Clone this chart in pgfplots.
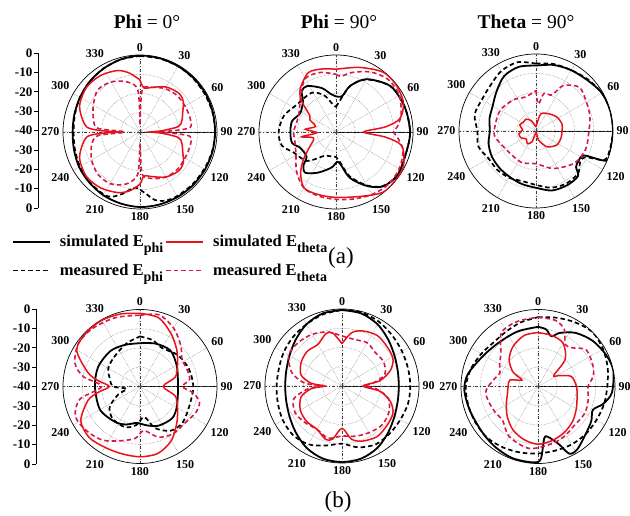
\documentclass[border=0pt]{standalone}
\usepackage{pgfplots}
\pgfplotsset{compat=1.18}
\usepgfplotslibrary{polar}
\usepackage{fontspec}
\setmainfont{Liberation Serif}
\definecolor{simred}{RGB}{232,18,28}
\definecolor{meared}{RGB}{215,25,70}
\newcommand{\sub}[1]{\raisebox{-0.35em}{\fontsize{14}{14}\selectfont #1}}
\pgfplotsset{
  myp/.style={
    width=154pt, height=154pt, scale only axis, anchor=center,
    xmin=0, xmax=360, ymin=0, ymax=40,
    xtick={0,30,...,330},
    xticklabels={90,60,30,0,330,300,270,240,210,180,150,120},
    ytick={10,20,30}, yticklabels={},
    grid=major,
    major grid style={black!55, densely dotted, line width=0.5pt},
    axis line style={black, line width=0.7pt},
    major tick length=0pt,
    xticklabel style={font=\fontsize{12}{12}\selectfont\bfseries, inner sep=3.5pt},
    x filter/.expression={90-x},
    y filter/.expression={y+40},
    extra x ticks={0,90,180,270},
    extra x tick labels={,,,},
    extra x tick style={major grid style={black!75, dashdotted, line width=0.5pt}},
  },
  simE/.style={black, line width=1.8pt, smooth, tension=0.5, no markers},
  meaE/.style={black, line width=1.7pt, dash pattern=on 4.5pt off 3pt, smooth, tension=0.5, no markers},
  simT/.style={simred, line width=1.5pt, smooth, tension=0.5, no markers},
  meaT/.style={meared, line width=1.6pt, dash pattern=on 4.5pt off 3pt, smooth, tension=0.5, no markers},
  scal/.style={scale only axis, width=10pt, height=155pt, anchor=west,
    xmin=0, xmax=1, ymin=-40, ymax=40,
    axis x line=none, axis y line=left, y axis line style={-, line width=0.6pt},
    ytick={-40,-30,...,40}, yticklabels={0,-10,-20,-30,-40,-30,-20,-10,0},
    tick align=outside, major tick length=4pt, ytick style={black, line width=0.6pt},
    yticklabel style={font=\bfseries\fontsize{13}{13}\selectfont, inner sep=1.5pt}},
}
\begin{document}
\begin{tikzpicture}[x=1pt,y=1pt]
\path[use as bounding box] (0,0) rectangle (630,516);

% titles
\node[font=\fontsize{19.5}{20}\selectfont] at (147,494) {\textbf{Phi} = 0°};
\node[font=\fontsize{19.5}{20}\selectfont] at (339,494) {\textbf{Phi} = 90°};
\node[font=\fontsize{19.5}{20}\selectfont] at (526,494) {\textbf{Theta} = 90°};
\node[font=\fontsize{23}{23}\selectfont] at (341,258) {(a)};
\node[font=\fontsize{23}{23}\selectfont] at (338,14) {(b)};

% radial scales
\begin{axis}[scal, at={(38pt,385.5pt)}]
\end{axis}
\begin{axis}[scal, at={(36pt,129.5pt)}]
\end{axis}

% legend
\begin{axis}[hide axis, scale only axis, width=100pt, height=100pt, at={(0pt,0pt)}, anchor=south west,
  xmin=0, xmax=1, ymin=0, ymax=1,
  legend columns=2,
  legend image code/.code={\draw[#1] (0pt,0pt) -- (37pt,0pt);},
  legend cell align=left,
  legend style={at={(0.12,2.83)}, anchor=north west, draw=none, fill=none, inner sep=0pt,
    font=\bfseries\fontsize{16.5}{18}\selectfont, row sep=12pt,
    /tikz/every odd column/.append style={column sep=7pt}}]
\addlegendimage{black, line width=1.8pt}\addlegendentry{simulated E\sub{phi}}
\addlegendimage{simred, line width=1.8pt}\addlegendentry{simulated E\sub{theta}}
\addlegendimage{black, line width=1.7pt, dash pattern=on 4.5pt off 3pt}\addlegendentry{measured E\sub{phi}}
\addlegendimage{meared, line width=1.7pt, dash pattern=on 4.5pt off 3pt}\addlegendentry{measured E\sub{theta}}
\end{axis}

% ---------- (a) Phi = 0
\begin{polaraxis}[myp, at={(140pt,384pt)}]
\addplot[meaE] coordinates {(0,-0.5)(15,-0.5)(30,-0.5)(45,-0.8)(60,-1)(75,-1)(90,-1)(105,-1.2)(120,-1.5)(135,-1.5)(150,-1.5)(160,-2)(168,-4)(175,-8)(185,-11)(195,-7)(203,-3.5)(210,-2.5)(225,-3)(240,-4)(255,-5)(270,-5.5)(285,-5)(300,-4)(315,-3)(330,-2)(345,-1)(360,-0.5)};
\addplot[simE] coordinates {(0,0)(15,-0.3)(30,-0.5)(45,-0.5)(60,-0.5)(75,-0.8)(90,-1)(105,-1)(120,-1)(135,-1)(150,-1)(165,-1)(180,-1)(195,-1.5)(210,-2)(225,-2.8)(240,-3.5)(255,-4.5)(270,-5)(285,-4.7)(300,-4)(315,-3)(330,-2)(345,-1)(360,0)};
\addplot[meaT] coordinates {(0,-36)(3,-18)(15,-16)(30,-14)(45,-13)(60,-13)(75,-13)(85,-14)(88,-24)(90,-33)(92,-24)(95,-14)(105,-13)(120,-13)(135,-12.5)(150,-13)(165,-15)(177,-18)(180,-33)(183,-18)(195,-12)(210,-9)(225,-9)(240,-11)(255,-14)(265,-18)(270,-32)(275,-18)(285,-15)(300,-12)(315,-9)(330,-10)(345,-13)(357,-18)(360,-36)};
\addplot[simT] coordinates {(0,-13)(5,-17)(15,-16)(30,-13)(45,-11.5)(55,-12.5)(65,-15.5)(75,-17.5)(82,-20)(87,-29)(90,-35)(93,-29)(98,-20)(105,-17.5)(115,-15.5)(125,-12.5)(135,-11.5)(150,-13)(165,-16)(175,-17)(180,-13)(190,-9)(200,-6.5)(215,-4.5)(230,-3.8)(245,-5.5)(255,-8.5)(265,-12.5)(268,-20)(270,-29)(272,-20)(275,-12.5)(285,-8.5)(295,-5.5)(310,-3.8)(325,-4.2)(340,-6)(350,-9)(360,-13)};
\end{polaraxis}

% ---------- (a) Phi = 90
\begin{polaraxis}[myp, at={(336pt,384pt)}]
\addplot[meaE] coordinates {(0,-27)(8,-23)(17,-15)(30,-8.5)(50,-3)(70,-2)(90,-1.5)(107,-2)(125,-1)(139,-2.8)(150,-8)(163,-16)(172,-24)(180,-27)(195,-27)(207,-26)(225,-18.7)(244,-15.6)(256,-11)(270,-10.2)(287,-11.6)(305,-15.2)(328,-16)(342,-20)(352,-25)(360,-27)};
\addplot[simE] coordinates {(0,-21.5)(10,-21)(17,-15)(30,-8.3)(50,-3)(70,-2)(90,-1.5)(107,-2)(125,-1)(139,-2.6)(150,-7.6)(163,-15)(172,-23)(178,-24.5)(185,-22)(193,-20)(205,-16.6)(217,-13.5)(224,-15.6)(230,-20)(246,-19.7)(256,-16.5)(270,-16.3)(284,-16.5)(298,-19)(313,-16.5)(320,-12.3)(328,-11.8)(342,-16)(352,-20)(360,-21.5)};
\addplot[meaT] coordinates {(0,-10)(5,-11)(15,-8)(30,-4)(45,-1.5)(60,-2)(75,-5)(85,-8)(90,-10)(95,-8)(105,-4)(120,-2)(135,-1.5)(150,-2.5)(165,-4)(180,-5)(195,-5.5)(210,-6.5)(225,-11)(240,-16)(255,-18)(270,-18)(285,-19)(300,-18)(315,-14)(330,-8)(345,-8)(360,-10)};
\addplot[simT] coordinates {(0,-7.4)(20,-4.3)(38,-0.5)(51,-0.3)(66,-1.7)(78,-6)(84,-14)(90,-25.6)(96,-14)(102,-5)(117,-0.7)(130,-0.2)(142,-0.3)(157,-3.8)(180,-6)(197,-6.2)(210,-6.6)(221,-12)(230,-18)(240,-24)(255,-28)(262,-22)(268,-30)(275,-24)(285,-29)(295,-25)(302,-24)(312,-16)(320,-11)(335,-6)(348,-6.5)(360,-7.4)};
\end{polaraxis}

% ---------- (a) Theta = 90
\begin{polaraxis}[myp, at={(536pt,385pt)}]
\addplot[meaE] coordinates {(0,-5)(15,-4)(30,-3.5)(45,-2)(60,-0.5)(75,0)(90,0)(105,-0.5)(113,-1.5)(118,-11)(125,-12)(135,-9)(150,-8.5)(165,-9.5)(180,-12)(195,-13)(210,-12)(225,-11.5)(240,-11.5)(255,-9)(270,-9.5)(285,-7)(300,-7.5)(315,-6.5)(330,-4)(345,-3)(360,-5)};
\addplot[simE] coordinates {(0,-6)(15,-4.5)(30,-3.5)(45,-2.5)(60,-0.5)(75,0)(90,0)(105,0)(113,-0.5)(117,-12)(125,-13)(132,-12)(137,-8)(150,-7.5)(165,-8)(180,-10.5)(195,-11.5)(210,-12.5)(225,-13)(240,-13.5)(255,-14.5)(270,-16)(285,-15)(300,-14)(315,-11)(330,-7)(345,-5.5)(360,-6)};
\addplot[meaT] coordinates {(0,-19)(5,-26)(12,-20)(24,-19.5)(31,-12.5)(45,-8)(62,-10)(75,-11)(90,-12.5)(110,-12.5)(130,-14)(155,-18.5)(180,-23)(205,-22)(235,-22)(262,-18.5)(276,-18.5)(300,-18.5)(324,-20)(343,-21.5)(360,-19)};
\addplot[simT] coordinates {(0,-38)(15,-31)(35,-29)(56,-27)(75,-26)(90,-26.5)(105,-26.5)(124,-27)(145,-30)(164,-35)(180,-39)(200,-34)(215,-32)(230,-33.5)(245,-31.5)(260,-31)(275,-33)(290,-31)(305,-32)(320,-32)(335,-34)(350,-37)(360,-38)};
\end{polaraxis}

% ---------- (b) left
\begin{polaraxis}[myp, at={(140pt,129.5pt)}]
\addplot[meaE] coordinates {(0,-14)(15,-15)(30,-17)(50,-14.5)(70,-13)(90,-12.3)(110,-12.5)(130,-11)(145,-12)(160,-17)(172,-24)(185,-20)(200,-17.5)(220,-18)(236,-21)(250,-28)(260,-33)(270,-26)(283,-24)(300,-21)(320,-19.5)(343,-16.5)(360,-14)};
\addplot[simE] coordinates {(0,-17.5)(20,-16.3)(40,-15.5)(60,-18)(80,-20)(100,-20)(120,-18)(135,-16.5)(155,-17.5)(170,-19.5)(185,-21)(200,-19)(215,-17.5)(240,-16)(270,-16.6)(295,-16)(320,-16)(340,-17)(360,-17.5)};
\addplot[meaT] coordinates {(0,-3)(15,-1.5)(30,-5)(45,-10)(57,-14)(70,-14)(82,-14)(90,-18)(97,-12)(105,-8)(115,-8)(130,-10)(145,-10)(160,-12)(175,-17)(185,-13)(200,-10)(215,-6)(230,-4)(245,-3)(258,-8)(270,-20)(280,-10)(290,-4)(305,-1)(320,-1)(340,-2)(360,-3)};
\addplot[simT] coordinates {(0,-2)(15,-3)(30,-8)(45,-13)(60,-17.5)(75,-21)(90,-28)(105,-21)(120,-17.5)(135,-13)(150,-7.5)(165,-4)(180,-3.5)(195,-3.8)(210,-3.5)(225,-2.6)(240,-4.5)(255,-12)(262,-18)(270,-24)(278,-18)(285,-12)(300,-2)(315,-0.5)(330,-0.3)(345,-1)(360,-2)};
\end{polaraxis}

% ---------- (b) middle
\begin{polaraxis}[myp, at={(342pt,130pt)}]
\addplot[meaE] coordinates {(0,-0.5)(15,-0.5)(30,-1.5)(45,-3)(60,-4)(75,-4.5)(90,-4.5)(105,-4.5)(120,-5)(135,-5)(150,-5)(165,-7)(180,-10)(195,-8)(210,-5)(225,-4)(240,-4.5)(255,-5.5)(270,-6)(285,-6)(300,-5)(315,-4)(330,-3)(345,-1.5)(360,-0.5)};
\addplot[simE] coordinates {(0,-0.5)(15,-1)(30,-3)(45,-6)(60,-8.5)(75,-10)(90,-10.5)(105,-10)(120,-8.5)(135,-6)(150,-3)(165,-1)(180,-0.5)(195,-1)(210,-3)(225,-6)(240,-8.5)(255,-10)(270,-10.5)(285,-10)(300,-8.5)(315,-6)(330,-3)(345,-1)(360,-0.5)};
\addplot[meaT] coordinates {(0,-14)(15,-15)(30,-14)(45,-15.5)(60,-15)(75,-17)(85,-24)(90,-28)(95,-22)(105,-15)(120,-12)(135,-11)(150,-12)(165,-13)(180,-14)(195,-12)(210,-14)(225,-13)(240,-12)(255,-14)(265,-22)(270,-28)(275,-20)(285,-13)(300,-8)(315,-8)(330,-9)(345,-11)(360,-14)};
\addplot[simT] coordinates {(0,-18)(10,-12)(20,-9.5)(35,-8)(50,-9)(62,-10)(72,-13.5)(82,-20)(90,-29)(98,-20)(108,-13.5)(118,-10)(130,-9)(145,-8)(160,-9.5)(170,-12)(180,-18)(190,-12)(197,-11)(210,-14)(225,-14)(240,-15)(255,-18)(265,-24)(270,-31)(275,-24)(285,-18)(300,-15.5)(315,-14.5)(330,-15)(343,-11.5)(350,-12)(360,-18)};
\end{polaraxis}

% ---------- (b) right
\begin{polaraxis}[myp, at={(538pt,129.5pt)}]
\addplot[meaE] coordinates {(0,-4)(15,-3)(30,-1.5)(45,0)(60,-1)(75,-2.5)(90,-4)(105,-4.5)(120,-5)(135,-5)(150,-5.2)(165,-5.5)(180,-5.2)(195,-4.5)(210,-3.5)(225,-2.5)(240,-2.5)(255,-2.5)(270,-2.5)(285,-4)(300,-6)(315,-7.5)(330,-7)(345,-5.5)(360,-4)};
\addplot[simE] coordinates {(0,-9)(8,-10)(15,-13)(22,-10)(35,-6)(50,-3)(65,-1)(78,0)(95,-1.5)(105,-5)(113,-9)(123,-7)(135,-5)(148,-1.5)(155,-1.5)(160,-8)(168,-13)(173,-13)(178,-2)(185,-0.5)(200,-0.5)(215,-1.5)(230,-2.5)(250,-2.5)(267,-1.7)(280,-3)(300,-7.5)(320,-9.5)(340,-9.5)(360,-9)};
\addplot[meaT] coordinates {(0,-4)(15,-4.5)(25,-7.5)(33,-14)(42,-13)(53,-8.5)(70,-9.5)(80,-11)(90,-14)(105,-13)(120,-12)(138,-12.3)(150,-11)(165,-9.5)(188,-7.5)(210,-10)(226,-14.5)(240,-14)(255,-13)(266,-13)(280,-17)(289,-19)(300,-17)(312,-14)(325,-6.5)(335,-5)(345,-4.5)(360,-4)};
\addplot[simT] coordinates {(0,-12)(15,-12.5)(30,-14)(45,-20)(55,-30)(62,-28)(73,-22)(90,-20)(105,-19)(120,-17)(135,-14.5)(150,-12.5)(165,-11)(180,-10)(195,-11.5)(210,-14)(225,-17.5)(240,-21)(255,-23.5)(270,-24.5)(283,-25)(292,-31)(300,-25)(313,-19.5)(328,-15.5)(345,-12.5)(360,-12)};
\end{polaraxis}
\end{tikzpicture}
\end{document}
